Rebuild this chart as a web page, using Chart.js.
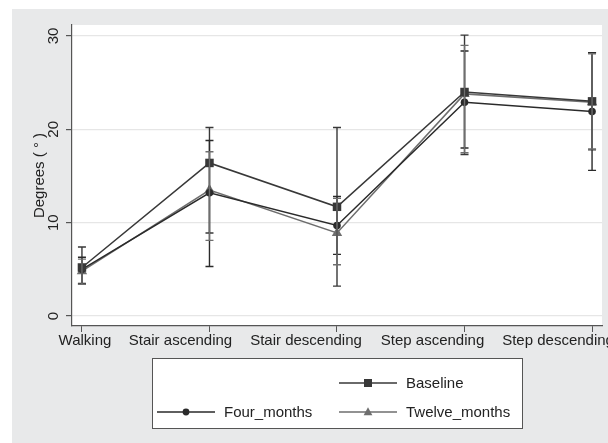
<!DOCTYPE html>
<html>
<head>
<meta charset="utf-8">
<script src="https://cdn.jsdelivr.net/npm/chart.js@4.4.0/dist/chart.umd.min.js"></script>
<style>
  body { margin: 0; background: #fff; }
  #wrap { position: relative; width: 608px; height: 443px; overflow: hidden; }
  #bg { position: absolute; left: 12px; top: 9px; right: 0; bottom: 0; background: #e8e9ea; }
  canvas { position: absolute; left: 0; top: 0; }
</style>
</head>
<body>
<div id="wrap">
  <div id="bg"></div>
  <canvas id="gaitChart" width="608" height="443"></canvas>
</div>
<script>
const categories = ["Walking", "Stair ascending", "Stair descending", "Step ascending", "Step descending"];
const yTicks = [0, 10, 20, 30];

const baseline = [5.2, 16.4, 11.7, 24.0, 23.0];
const baselineLow = [3.4, 8.9, 3.2, 17.3, 17.8];
const baselineHigh = [7.4, 20.2, 20.2, 30.1, 28.2];

const fourMonths = [5.0, 13.2, 9.7, 22.9, 21.9];
const fourMonthsLow = [3.5, 5.3, 6.6, 18.0, 15.6];
const fourMonthsHigh = [6.3, 18.8, 12.8, 28.4, 28.2];

const twelveMonths = [4.8, 13.5, 8.9, 23.8, 22.9];
const twelveMonthsLow = [3.4, 8.1, 5.5, 17.5, 17.9];
const twelveMonthsHigh = [6.1, 17.6, 12.6, 29.0, 28.1];

// labels are packed to the left like the original, so shift them off their ticks
const labelShift = [3, -29, -31, -32, -34];
const FONT = "'Liberation Sans', Arial, sans-serif";

const toPoints = (values) => values.map((v, i) => ({ x: i, y: v }));

const ctx = document.getElementById("gaitChart").getContext("2d");

// white plot region
const plotBackground = {
  id: "plotBackground",
  beforeDraw(chart) {
    const { ctx, chartArea } = chart;
    ctx.save();
    ctx.fillStyle = "#ffffff";
    ctx.fillRect(chartArea.left, chartArea.top, chartArea.right - chartArea.left, chartArea.bottom - chartArea.top);
    ctx.restore();
  },
};

// range caps for every dataset
const errorBars = {
  id: "errorBars",
  afterDatasetsDraw(chart) {
    const { ctx, scales } = chart;
    ctx.save();
    chart.data.datasets.forEach((ds) => {
      ctx.strokeStyle = ds.borderColor;
      ctx.lineWidth = 1.4;
      ds.low.forEach((lo, i) => {
        const x = scales.x.getPixelForValue(i);
        const y1 = scales.y.getPixelForValue(lo);
        const y2 = scales.y.getPixelForValue(ds.high[i]);
        ctx.beginPath();
        ctx.moveTo(x, y1);
        ctx.lineTo(x, y2);
        ctx.moveTo(x - 4, y1);
        ctx.lineTo(x + 4, y1);
        ctx.moveTo(x - 4, y2);
        ctx.lineTo(x + 4, y2);
        ctx.stroke();
      });
    });
    ctx.restore();
  },
};

// category names under the x axis
const categoryLabels = {
  id: "categoryLabels",
  afterDraw(chart) {
    const { ctx, scales } = chart;
    ctx.save();
    ctx.fillStyle = "#222";
    ctx.font = "15px " + FONT;
    ctx.textAlign = "center";
    ctx.textBaseline = "middle";
    categories.forEach((c, i) => {
      ctx.fillText(c, scales.x.getPixelForValue(i) + labelShift[i], 341);
    });
    ctx.restore();
  },
};

function drawMarker(ctx, style, x, y, r, color) {
  ctx.fillStyle = color;
  ctx.beginPath();
  if (style === "rect") {
    ctx.rect(x - r, y - r, r * 2, r * 2);
  } else if (style === "triangle") {
    ctx.moveTo(x, y - r * 1.2);
    ctx.lineTo(x + r * 1.1, y + r * 0.8);
    ctx.lineTo(x - r * 1.1, y + r * 0.8);
    ctx.closePath();
  } else {
    ctx.arc(x, y, r * 0.85, 0, Math.PI * 2);
  }
  ctx.fill();
}

// Stata style legend box below the plot
const boxLegend = {
  id: "boxLegend",
  afterDraw(chart) {
    const { ctx } = chart;
    const ds = chart.data.datasets;
    ctx.save();
    ctx.fillStyle = "#ffffff";
    ctx.fillRect(152, 358, 370, 70);
    ctx.strokeStyle = "#555";
    ctx.lineWidth = 1;
    ctx.strokeRect(152.5, 358.5, 370, 70);

    const entries = [
      { d: ds[0], x: 339, y: 383 },
      { d: ds[1], x: 157, y: 412 },
      { d: ds[2], x: 339, y: 412 },
    ];
    entries.forEach((e) => {
      ctx.strokeStyle = e.d.borderColor;
      ctx.lineWidth = 1.3;
      ctx.beginPath();
      ctx.moveTo(e.x, e.y);
      ctx.lineTo(e.x + 58, e.y);
      ctx.stroke();
      drawMarker(ctx, e.d.pointStyle, e.x + 29, e.y, 4, e.d.pointBackgroundColor);
      ctx.fillStyle = "#222";
      ctx.font = "15px " + FONT;
      ctx.textBaseline = "middle";
      ctx.textAlign = "left";
      ctx.fillText(e.d.label, e.x + 67, e.y + 1);
    });
    ctx.restore();
  },
};

const chart = new Chart(ctx, {
  type: "line",
  data: {
    datasets: [
      {
        label: "Baseline",
        data: toPoints(baseline),
        low: baselineLow,
        high: baselineHigh,
        borderColor: "#383838",
        pointBackgroundColor: "#383838",
        pointBorderColor: "#383838",
        pointStyle: "rect",
        pointRadius: 6,
        pointBorderWidth: 0,
        borderWidth: 1.5,
      },
      {
        label: "Four_months",
        data: toPoints(fourMonths),
        low: fourMonthsLow,
        high: fourMonthsHigh,
        borderColor: "#2a2a2a",
        pointBackgroundColor: "#2a2a2a",
        pointBorderColor: "#2a2a2a",
        pointStyle: "circle",
        pointRadius: 3.8,
        pointBorderWidth: 0,
        borderWidth: 1.5,
      },
      {
        label: "Twelve_months",
        data: toPoints(twelveMonths),
        low: twelveMonthsLow,
        high: twelveMonthsHigh,
        borderColor: "#6e6e6e",
        pointBackgroundColor: "#6e6e6e",
        pointBorderColor: "#6e6e6e",
        pointStyle: "triangle",
        pointRadius: 6,
        pointBorderWidth: 0,
        borderWidth: 1.5,
      },
    ],
  },
  options: {
    responsive: false,
    animation: false,
    layout: {
      padding: { left: 0, top: 25, right: 6, bottom: 0 },
    },
    plugins: {
      legend: { display: false },
      tooltip: { enabled: false },
    },
    scales: {
      x: {
        type: "linear",
        min: -0.078,
        max: 4.078,
        afterBuildTicks: (scale) => {
          scale.ticks = categories.map((c, i) => ({ value: i }));
        },
        afterFit: (scale) => {
          scale.height = 117;
          scale.paddingLeft = 0;
          scale.paddingRight = 0;
        },
        grid: {
          display: true,
          drawOnChartArea: false,
          tickLength: 6,
          tickColor: "#555",
        },
        border: { color: "#555", width: 1.2 },
        ticks: {
          display: false,
          autoSkip: false,
          maxRotation: 0,
          minRotation: 0,
        },
      },
      y: {
        min: -1.07,
        max: 31.18,
        afterBuildTicks: (scale) => {
          scale.ticks = yTicks.map((v) => ({ value: v }));
        },
        afterFit: (scale) => {
          scale.width = 72;
          scale.paddingTop = 0;
          scale.paddingBottom = 0;
        },
        grid: {
          color: "#e6e6e6",
          lineWidth: 1.2,
          tickLength: 6,
          tickColor: "#555",
        },
        border: { color: "#555", width: 1.2 },
        ticks: {
          minRotation: 90,
          maxRotation: 90,
          crossAlign: "center",
          padding: 4,
          color: "#222",
          font: { family: FONT, size: 15 },
        },
        title: {
          display: true,
          text: "Degrees ( ° )",
          color: "#222",
          padding: { top: 31, bottom: 0 },
          font: { family: FONT, size: 15 },
        },
      },
    },
  },
  plugins: [plotBackground, errorBars, categoryLabels, boxLegend],
});
</script>
</body>
</html>
